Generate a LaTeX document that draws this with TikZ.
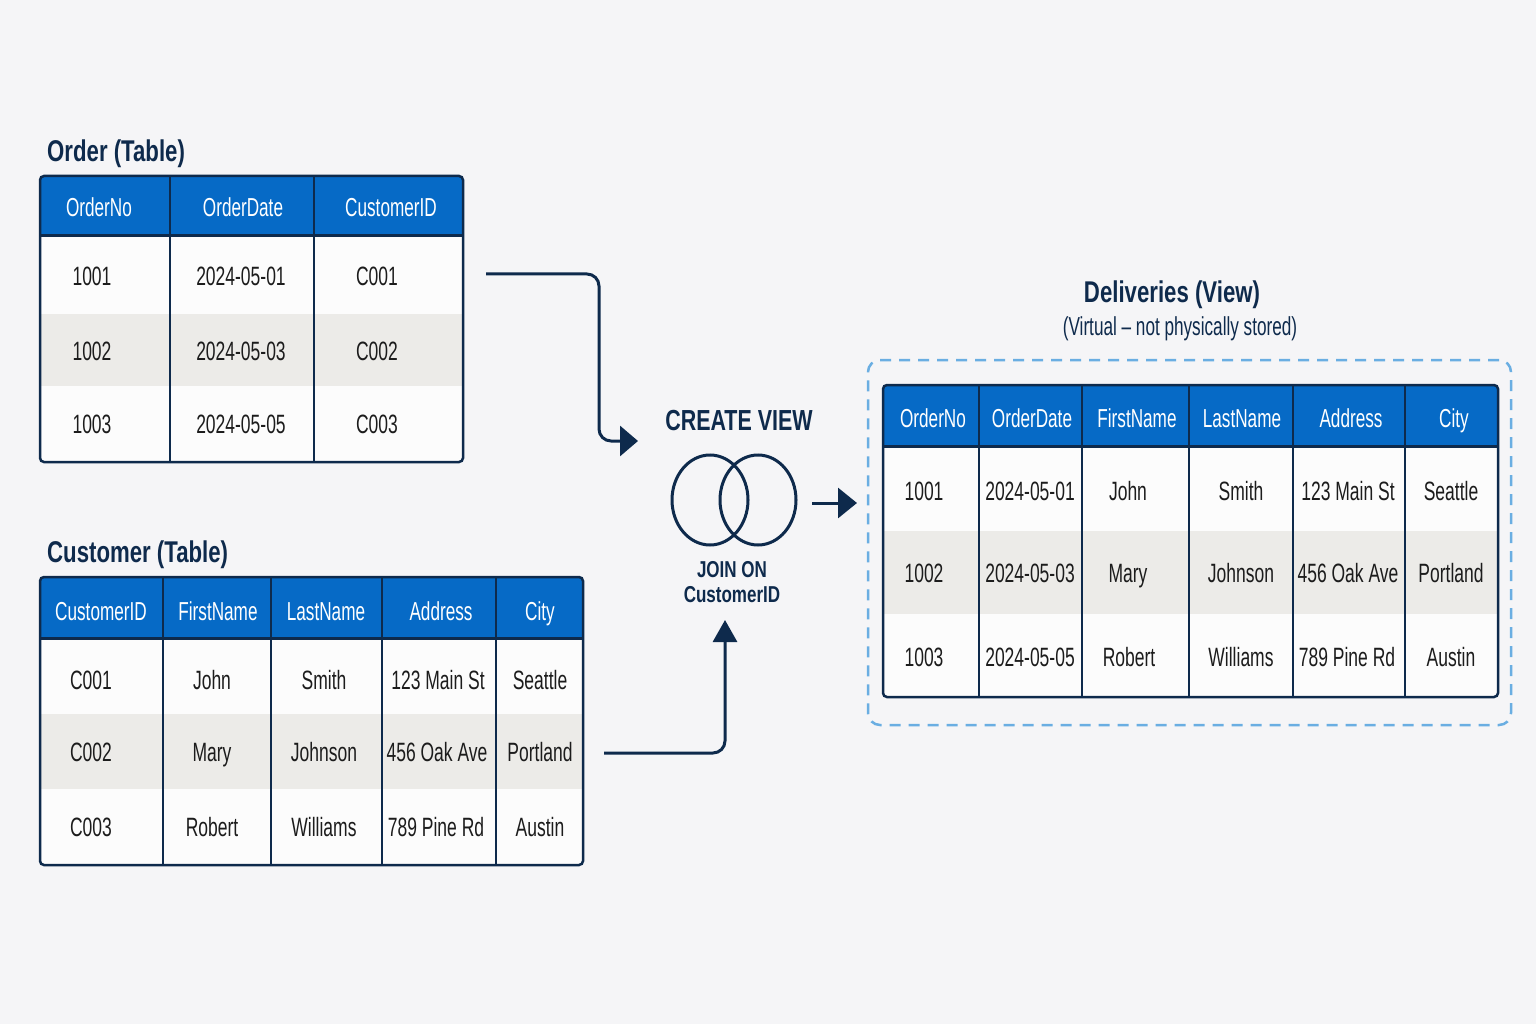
\documentclass[tikz,border=0pt]{standalone}
\usepackage{fontspec}
\setmainfont{Liberation Sans}[FakeStretch=0.66,BoldFeatures={FakeStretch=0.74}]
\usetikzlibrary{arrows.meta,shapes.geometric}
\definecolor{bg}{HTML}{F5F5F7}
\definecolor{hdr}{HTML}{066AC6}
\definecolor{navy}{HTML}{0E2A4C}
\definecolor{rowgray}{HTML}{ECEBE8}
\definecolor{rowwhite}{HTML}{FCFCFC}
\definecolor{txt}{HTML}{1C1C1C}
\definecolor{dashblue}{HTML}{6AAEE2}
\begin{document}
\begin{tikzpicture}[x=1pt,y=-1pt,
  htxt/.style={text=white,inner sep=0pt,anchor=base,yshift=-10pt,font={\fontsize{26pt}{31pt}\selectfont}},
  dtxt/.style={text=txt,inner sep=0pt,anchor=base,yshift=-10pt,font={\fontsize{26.5pt}{31pt}\selectfont}},
  ttl/.style={text=navy,inner sep=0pt,font={\fontsize{30pt}{36pt}\selectfont\bfseries}},
  frame/.style={draw=navy,line width=2.5pt,rounded corners=4pt,inner sep=0pt,fill=none},
  divider/.style={draw=navy,line width=2pt},
  hline/.style={draw=navy,line width=3pt},
  conn/.style={draw=navy,line width=3pt,rounded corners=12pt},
  vennc/.style={draw=navy,line width=3pt,ellipse,inner sep=0pt,minimum width=76pt,minimum height=90pt},
]
\fill[bg] (0,0) rectangle (1536,1024);
\useasboundingbox (0,0) rectangle (1536,1024);

% ---------------- Order table ----------------
\begin{scope}
\clip[rounded corners=4pt] (40,176) rectangle (463,462);
\fill[rowwhite] (40,176) rectangle (463,462);
\fill[hdr] (40,176) rectangle (463,236);
\fill[rowgray] (40,314) rectangle (463,386);
\end{scope}
\foreach \x in {170,314} \draw[divider] (\x,176) -- (\x,462);
\draw[hline] (40,236) -- (463,236);
\node[frame,minimum width=423pt,minimum height=286pt] (ordertbl) at (251.5,319) {};
\node[ttl,anchor=base west] (orderttl) at (47,162) {Order (Table)};
\node[htxt] (oh1) at (99,207) {OrderNo};
\node[htxt] (oh2) at (243,207) {OrderDate};
\node[htxt] (oh3) at (391,207) {CustomerID};
\node[dtxt] (o11) at (92,275) {1001};
\node[dtxt] (o12) at (241,275) {2024-05-01};
\node[dtxt] (o13) at (377,275) {C001};
\node[dtxt] (o21) at (92,350) {1002};
\node[dtxt] (o22) at (241,350) {2024-05-03};
\node[dtxt] (o23) at (377,350) {C002};
\node[dtxt] (o31) at (92,423) {1003};
\node[dtxt] (o32) at (241,423) {2024-05-05};
\node[dtxt] (o33) at (377,423) {C003};

% ---------------- Customer table ----------------
\begin{scope}
\clip[rounded corners=4pt] (40,577) rectangle (583,865);
\fill[rowwhite] (40,577) rectangle (583,865);
\fill[hdr] (40,577) rectangle (583,638);
\fill[rowgray] (40,714) rectangle (583,789);
\end{scope}
\foreach \x in {163,271,382,496} \draw[divider] (\x,577) -- (\x,865);
\draw[hline] (40,638) -- (583,638);
\node[frame,minimum width=543pt,minimum height=288pt] (custtbl) at (311.5,721) {};
\node[ttl,anchor=base west] (custttl) at (47,562) {Customer (Table)};
\node[htxt] (ch1) at (101,610) {CustomerID};
\node[htxt] (ch2) at (218,610) {FirstName};
\node[htxt] (ch3) at (326,610) {LastName};
\node[htxt] (ch4) at (441,610) {Address};
\node[htxt] (ch5) at (540,610) {City};
\node[dtxt] (c11) at (91,679) {C001};
\node[dtxt] (c12) at (212,679) {John};
\node[dtxt] (c13) at (324,679) {Smith};
\node[dtxt] (c14) at (438,679) {123 Main St};
\node[dtxt] (c15) at (540,679) {Seattle};
\node[dtxt] (c21) at (91,751) {C002};
\node[dtxt] (c22) at (212,751) {Mary};
\node[dtxt] (c23) at (324,751) {Johnson};
\node[dtxt] (c24) at (437,751) {456 Oak Ave};
\node[dtxt] (c25) at (540,751) {Portland};
\node[dtxt] (c31) at (91,826) {C003};
\node[dtxt] (c32) at (212,826) {Robert};
\node[dtxt] (c33) at (324,826) {Williams};
\node[dtxt] (c34) at (436,826) {789 Pine Rd};
\node[dtxt] (c35) at (540,826) {Austin};

% ---------------- Deliveries view ----------------
\node[ttl,anchor=base] (viewttl) at (1172,302) {Deliveries (View)};
\node[text=navy,inner sep=0pt,anchor=base,font={\fontsize{26pt}{31pt}\selectfont}] (viewsub) at (1180,335) {(Virtual – not physically stored)};
\node[draw=dashblue,line width=2.5pt,dash pattern=on 11pt off 8pt,rounded corners=12pt,inner sep=0pt,minimum width=643pt,minimum height=365pt] (viewbox) at (1189.5,542.5) {};
\begin{scope}
\clip[rounded corners=4pt] (883,385) rectangle (1498,697);
\fill[rowwhite] (883,385) rectangle (1498,697);
\fill[hdr] (883,385) rectangle (1498,446);
\fill[rowgray] (883,531) rectangle (1498,614);
\end{scope}
\foreach \x in {979,1082,1189,1293,1405} \draw[divider] (\x,385) -- (\x,697);
\draw[hline] (883,446) -- (1498,446);
\node[frame,minimum width=615pt,minimum height=312pt] (viewtbl) at (1190.5,541) {};
\node[htxt] (vh1) at (933,417) {OrderNo};
\node[htxt] (vh2) at (1032,417) {OrderDate};
\node[htxt] (vh3) at (1137,417) {FirstName};
\node[htxt] (vh4) at (1242,417) {LastName};
\node[htxt] (vh5) at (1351,417) {Address};
\node[htxt] (vh6) at (1454,417) {City};
\node[dtxt] (v11) at (924,490) {1001};
\node[dtxt] (v12) at (1030,490) {2024-05-01};
\node[dtxt] (v13) at (1128,490) {John};
\node[dtxt] (v14) at (1241,490) {Smith};
\node[dtxt] (v15) at (1348,490) {123 Main St};
\node[dtxt] (v16) at (1451,490) {Seattle};
\node[dtxt] (v21) at (924,572) {1002};
\node[dtxt] (v22) at (1030,572) {2024-05-03};
\node[dtxt] (v23) at (1128,572) {Mary};
\node[dtxt] (v24) at (1241,572) {Johnson};
\node[dtxt] (v25) at (1348,572) {456 Oak Ave};
\node[dtxt] (v26) at (1451,572) {Portland};
\node[dtxt] (v31) at (924,656) {1003};
\node[dtxt] (v32) at (1030,656) {2024-05-05};
\node[dtxt] (v33) at (1129,656) {Robert};
\node[dtxt] (v34) at (1241,656) {Williams};
\node[dtxt] (v35) at (1347,656) {789 Pine Rd};
\node[dtxt] (v36) at (1451,656) {Austin};

% ---------------- Create view / join ----------------
\node[text=navy,inner sep=0pt,anchor=base,font={\fontsize{29pt}{35pt}\selectfont\bfseries}] (createview) at (739,430) {CREATE VIEW};
\node[vennc] (vennl) at (710,500) {};
\node[vennc] (vennr) at (758,500) {};
\node[text=navy,inner sep=0pt,anchor=base,font={\fontsize{23pt}{28pt}\selectfont\bfseries}] (joinon) at (732,577) {JOIN ON};
\node[text=navy,inner sep=0pt,anchor=base,font={\fontsize{23pt}{28pt}\selectfont\bfseries}] (joinkey) at (732,602) {CustomerID};

% ---------------- connectors ----------------
\coordinate (a1s) at (486,274);
\coordinate (a1b) at (599,274);
\coordinate (a1c) at (599,441);
\coordinate (a1e) at (638,441);
\draw[conn,-{Triangle[length=18pt,width=30pt]}] (a1s) -- (a1b) -- (a1c) -- (a1e);

\coordinate (a2s) at (812,503);
\coordinate (a2e) at (857,503);
\draw[conn,-{Triangle[length=19pt,width=30pt]}] (a2s) -- (a2e);

\coordinate (a3s) at (604,753);
\coordinate (a3b) at (725,753);
\coordinate (a3e) at (725,620);
\draw[conn,-{Triangle[length=22pt,width=24pt]}] (a3s) -- (a3b) -- (a3e);
\end{tikzpicture}
\end{document}
